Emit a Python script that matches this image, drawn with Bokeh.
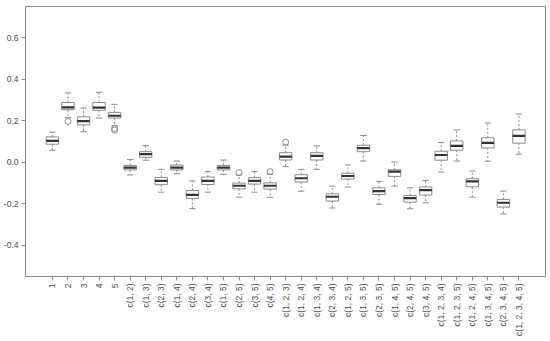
import math
import numpy as np
from bokeh.plotting import figure
from bokeh.models import Range1d, FixedTicker, ColumnDataSource
from bokeh.embed import file_html
from bokeh.resources import INLINE

labels = ["1", "2", "3", "4", "5",
          "c(1, 2)", "c(1, 3)", "c(2, 3)", "c(1, 4)", "c(2, 4)", "c(3, 4)",
          "c(1, 5)", "c(2, 5)", "c(3, 5)", "c(4, 5)",
          "c(1, 2, 3)", "c(1, 2, 4)", "c(1, 3, 4)", "c(2, 3, 4)",
          "c(1, 2, 5)", "c(1, 3, 5)", "c(2, 3, 5)", "c(1, 4, 5)",
          "c(2, 4, 5)", "c(3, 4, 5)",
          "c(1, 2, 3, 4)", "c(1, 2, 3, 5)", "c(1, 2, 4, 5)", "c(1, 3, 4, 5)",
          "c(2, 3, 4, 5)", "c(1, 2, 3, 4, 5)"]

lower = [0.058, 0.215, 0.147, 0.213, 0.176, -0.061, 0.010, -0.144, -0.055, -0.223, -0.144,
         -0.058, -0.168, -0.144, -0.169, -0.021, -0.139, -0.034, -0.220, -0.119, 0.006,
         -0.202, -0.115, -0.224, -0.195, -0.047, 0.006, -0.168, 0.005, -0.249, 0.039]
q1 = [0.087, 0.253, 0.180, 0.250, 0.213, -0.037, 0.024, -0.108, -0.037, -0.174, -0.107,
      -0.037, -0.128, -0.105, -0.129, 0.011, -0.095, 0.011, -0.187, -0.081, 0.051,
      -0.155, -0.068, -0.192, -0.158, 0.010, 0.058, -0.118, 0.069, -0.216, 0.092]
median = [0.103, 0.264, 0.198, 0.263, 0.224, -0.026, 0.039, -0.090, -0.026, -0.157, -0.090,
          -0.026, -0.113, -0.090, -0.113, 0.027, -0.077, 0.031, -0.166, -0.066, 0.068,
          -0.139, -0.045, -0.173, -0.134, 0.035, 0.079, -0.092, 0.093, -0.195, 0.127]
q3 = [0.122, 0.288, 0.219, 0.288, 0.240, -0.015, 0.051, -0.073, -0.013, -0.136, -0.071,
      -0.015, -0.100, -0.074, -0.099, 0.046, -0.060, 0.046, -0.152, -0.053, 0.082,
      -0.123, -0.036, -0.160, -0.119, 0.053, 0.103, -0.079, 0.118, -0.179, 0.156]
upper = [0.145, 0.334, 0.261, 0.337, 0.279, 0.013, 0.080, -0.034, 0.006, -0.090, -0.045,
         0.011, -0.062, -0.045, -0.058, 0.082, -0.034, 0.079, -0.115, -0.013, 0.129,
         -0.092, 0.001, -0.123, -0.087, 0.095, 0.156, -0.042, 0.189, -0.139, 0.232]

outlier_pos = [2, 5, 5, 13, 15, 16]
outlier_val = [0.196, 0.163, 0.155, -0.050, -0.045, 0.097]

y_ticks = [-0.4, -0.2, 0.0, 0.2, 0.4, 0.6]
y_tick_labels = ["-0.4", "-0.2", "0.0", "0.2", "0.4", "0.6"]

pos = np.arange(1, len(labels) + 1)
box_w = 0.8
cap_w = 0.4

src = ColumnDataSource(dict(
    x=pos, lower=lower, q1=q1, median=median, q3=q3, upper=upper,
    cx0=pos - cap_w / 2, cx1=pos + cap_w / 2,
    mx0=pos - box_w / 2, mx1=pos + box_w / 2,
))

p = figure(width=548, height=338, output_backend="svg",
           toolbar_location=None,
           x_range=Range1d(-0.73, 32.71), y_range=Range1d(-0.55, 0.75),
           min_border_top=6, min_border_right=3, min_border_left=3, min_border_bottom=0)
p.background_fill_color = "white"
p.border_fill_color = "white"
p.outline_line_color = "#8a8a8a"
p.outline_line_width = 1
p.grid.visible = False

gray = "#8a8a8a"
# whiskers
p.segment(x0="x", y0="q3", x1="x", y1="upper", source=src, line_color=gray,
          line_dash="2 2", line_width=1)
p.segment(x0="x", y0="q1", x1="x", y1="lower", source=src, line_color=gray,
          line_dash="2 2", line_width=1)
# caps
p.segment(x0="cx0", y0="upper", x1="cx1", y1="upper", source=src, line_color=gray, line_width=1)
p.segment(x0="cx0", y0="lower", x1="cx1", y1="lower", source=src, line_color=gray, line_width=1)
# boxes
p.vbar(x="x", width=box_w, bottom="q1", top="q3", source=src,
       fill_color="white", line_color=gray, line_width=1)
# medians
p.segment(x0="mx0", y0="median", x1="mx1", y1="median", source=src,
          line_color="#333333", line_width=2.2)
# outliers
p.scatter(x=outlier_pos, y=outlier_val, marker="circle", size=6,
          fill_color=None, line_color=gray, line_width=1)

font = "Liberation Sans"
for ax in (p.xaxis[0], p.yaxis[0]):
    ax.axis_line_color = None
    ax.major_tick_line_color = gray
    ax.major_tick_out = 4
    ax.major_tick_in = 0
    ax.minor_tick_line_color = None
    ax.major_label_text_font = font
    ax.major_label_text_font_size = "8.5px"
    ax.major_label_text_color = "#4a4a4a"
    ax.major_label_standoff = 3

p.xaxis.ticker = FixedTicker(ticks=list(pos))
p.xaxis.major_label_overrides = {int(i): l for i, l in zip(pos, labels)}
p.xaxis.major_label_orientation = math.pi / 2

p.yaxis.ticker = FixedTicker(ticks=y_ticks)
p.yaxis.major_label_overrides = {t: l for t, l in zip(y_ticks, y_tick_labels)}

open("out.html", "w").write(file_html(p, INLINE))
